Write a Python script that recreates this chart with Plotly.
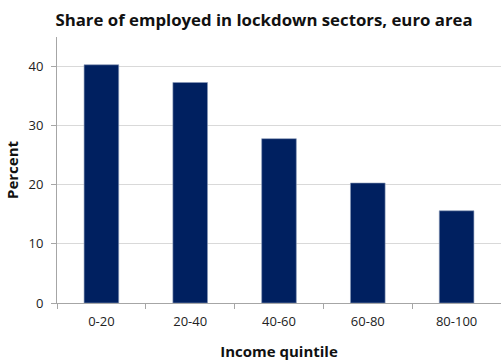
import plotly.graph_objects as go

# Income quintiles and the share of employed working in lockdown sectors
quintiles = ["0-20", "20-40", "40-60", "60-80", "80-100"]
share_pct = [40.3, 37.3, 27.8, 20.3, 15.6]

y_ticks = [0, 10, 20, 30, 40]

navy = "#002060"
font_family = "Open Sans, Liberation Sans, sans-serif"

fig = go.Figure(
    go.Bar(
        x=quintiles,
        y=share_pct,
        marker=dict(color=navy, line=dict(color="#8a9bb8", width=0.6)),
        width=0.39,
    )
)

fig.update_layout(
    width=501,
    height=361,
    margin=dict(l=57, r=0, t=37, b=58),
    paper_bgcolor="white",
    plot_bgcolor="white",
    showlegend=False,
    font=dict(family=font_family, size=12, color="#222222"),
    title=dict(
        text="<b>Share of employed in lockdown sectors, euro area</b>",
        x=0.527,
        xanchor="center",
        y=0.944,
        yanchor="middle",
        font=dict(family=font_family, size=16.8, color="#111111"),
    ),
)

fig.update_xaxes(
    type="category",
    showline=True,
    linecolor="#a6a6a6",
    linewidth=1,
    ticks="outside",
    tickson="boundaries",
    ticklen=5,
    tickcolor="#a6a6a6",
    showgrid=False,
    ticklabelstandoff=6,
    tickfont=dict(size=13, color="#222222"),
    title=dict(
        text="<b>Income quintile</b>",
        font=dict(size=15, color="#111111"),
        standoff=17,
    ),
)

fig.update_yaxes(
    range=[0, 45],
    tickvals=y_ticks,
    showline=True,
    linecolor="#a6a6a6",
    linewidth=1,
    ticks="outside",
    ticklen=5,
    tickcolor="#a6a6a6",
    showgrid=True,
    gridcolor="#d9d9d9",
    gridwidth=1,
    zeroline=False,
    ticklabelstandoff=5,
    tickfont=dict(size=13, color="#222222"),
    title=dict(
        text="<b>Percent</b>",
        font=dict(size=15, color="#111111"),
        standoff=6,
    ),
)

fig.write_html("out.html")
